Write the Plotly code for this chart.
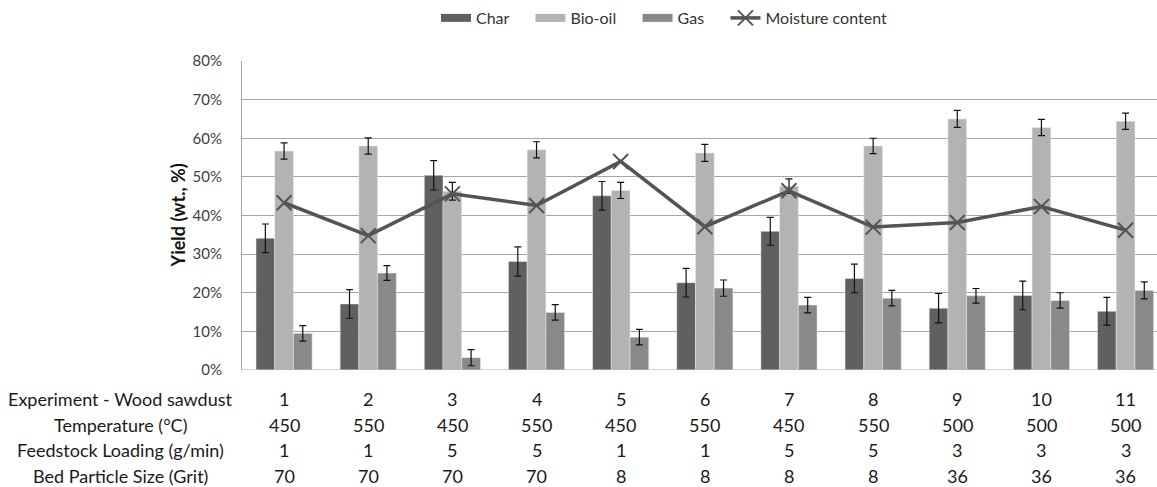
import plotly.graph_objects as go

# Product yields from fast pyrolysis of wood sawdust (wt.%)
experiments = ["1", "2", "3", "4", "5", "6", "7", "8", "9", "10", "11"]
temperature = ["450", "550", "450", "550", "450", "550", "450", "550", "500", "500", "500"]
loading = ["1", "1", "5", "5", "1", "1", "5", "5", "3", "3", "3"]
particle = ["70", "70", "70", "70", "8", "8", "8", "8", "36", "36", "36"]

char = [34.1, 17.1, 50.4, 28.1, 45.1, 22.6, 35.9, 23.7, 16.0, 19.3, 15.2]
char_err = [3.7, 3.7, 3.8, 3.8, 3.7, 3.7, 3.6, 3.7, 3.8, 3.7, 3.6]
bio_oil = [56.7, 58.0, 46.3, 57.0, 46.5, 56.2, 47.6, 58.0, 65.0, 62.8, 64.4]
bio_err = [2.1, 2.1, 2.3, 2.1, 2.1, 2.2, 1.9, 2.0, 2.2, 2.1, 2.1]
gas = [9.5, 25.1, 3.2, 14.9, 8.5, 21.2, 16.8, 18.6, 19.2, 18.0, 20.6]
gas_err = [2.0, 1.9, 2.1, 2.0, 2.0, 2.1, 2.0, 2.0, 1.9, 2.0, 2.2]
moisture = [43.3, 34.8, 45.6, 42.6, 54.0, 37.1, 46.4, 37.0, 38.2, 42.3, 36.2]

row_labels = ["Experiment - Wood sawdust", "Temperature (°C)",
              "Feedstock Loading (g/min)", "Bed Particle Size (Grit)"]
rows = [experiments, temperature, loading, particle]

FONT = "Lato"
PAD = "\u00a0" * 4  # extra room between legend entries
x = list(range(len(experiments)))

series = [("Char", char, char_err, "#606060"),
          ("Bio-oil", bio_oil, bio_err, "#b3b3b3"),
          ("Gas", gas, gas_err, "#898989")]

fig = go.Figure()
for name, vals, errs, color in series:
    fig.add_trace(go.Bar(x=x, y=vals, name=name, marker_color=color,
                         showlegend=False,
                         error_y=dict(type="data", array=errs, visible=True,
                                      color="#111111", thickness=1.2,
                                      width=3.5)))
# wide flat legend swatches for the bar series
for name, vals, errs, color in series:
    fig.add_trace(go.Scatter(x=[None], y=[None], name=name + PAD,
                             mode="lines", line=dict(color=color, width=8)))
fig.add_trace(go.Scatter(x=x, y=moisture, name="Moisture content",
                         mode="lines+markers",
                         line=dict(color="#545454", width=3.5),
                         marker=dict(symbol="x-thin", size=15,
                                     line=dict(width=2, color="#545454"))))

# plot area spans pixels 242..1157 horizontally, 61..370 vertically
L, R, T, B = 242, 1157, 61, 370
W, H = 1157, 487
spacing = 84.15
x_hi = -0.5 + (R - L) / spacing

annotations = []
row_y = [399, 424.5, 450, 475.5]
for label, vals, py in zip(row_labels, rows, row_y):
    yp = (B - py) / (B - T)
    annotations.append(dict(text=label, xref="paper", yref="paper",
                            x=(120 - L) / (R - L), y=yp, showarrow=False,
                            xanchor="center", yanchor="middle",
                            font=dict(family=FONT, size=18, color="#1a1a1a")))
    for xi, v in zip(x, vals):
        annotations.append(dict(text=v, xref="x", yref="paper", x=xi, y=yp,
                                showarrow=False, xanchor="center",
                                yanchor="middle",
                                font=dict(family=FONT, size=18,
                                          color="#1a1a1a")))

annotations.append(dict(text="<b>Yield (wt., %)</b>", xref="paper",
                        yref="paper", x=(177 - L) / (R - L), y=0.5,
                        textangle=-90, showarrow=False, xanchor="center",
                        yanchor="middle",
                        font=dict(family=FONT, size=18, color="#111111")))

fig.update_layout(
    width=W, height=H,
    margin=dict(l=L, r=W - R, t=T, b=H - B, pad=0, autoexpand=False),
    plot_bgcolor="white", paper_bgcolor="white",
    barmode="group", bargap=0.333, bargroupgap=0,
    font=dict(family=FONT, color="#404040"),
    showlegend=True,
    legend=dict(orientation="h", x=(436 - L) / (R - L), xanchor="left",
                y=1 + (T - 1) / (B - T), yanchor="top",
                font=dict(family=FONT, size=16, color="#333333"),
                itemwidth=30, tracegroupgap=0),
    xaxis=dict(range=[-0.5, x_hi], showticklabels=False, ticks="",
               showgrid=False, zeroline=False, showline=False),
    yaxis=dict(range=[0, 80], dtick=10, ticksuffix="%",
               showgrid=True, gridcolor="#a6a6a6", gridwidth=1,
               zeroline=False, showline=True, linecolor="#a6a6a6",
               linewidth=1, ticks="", ticklabelstandoff=16,
               tickfont=dict(family=FONT, size=15, color="#404040")),
    annotations=annotations,
)
fig.add_shape(type="line", xref="paper", yref="y", x0=0, x1=1, y0=0, y1=0,
              line=dict(color="#a6a6a6", width=1))

fig.write_html("out.html")
